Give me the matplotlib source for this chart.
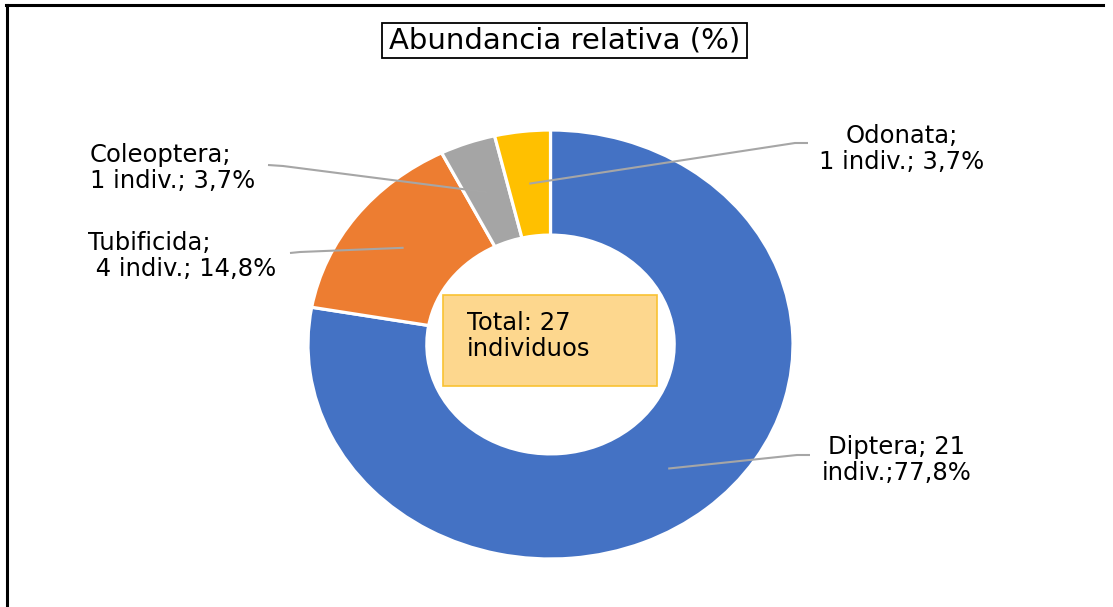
import matplotlib
matplotlib.use("Agg")
import matplotlib.pyplot as plt
import numpy as np
from matplotlib.patches import Rectangle
from matplotlib.lines import Line2D

# ---- data ----
categories = ["Diptera", "Tubificida", "Coleoptera", "Odonata"]
counts = [21, 4, 1, 1]
labels = ["Diptera; 21\nindiv.;77,8%",
          "Tubificida;\n 4 indiv.; 14,8%",
          "Coleoptera;\n1 indiv.; 3,7%",
          "Odonata;\n1 indiv.; 3,7%"]
colors = ["#4472C4", "#ED7D31", "#A5A5A5", "#FFC000"]
title = "Abundancia relativa (%)"
center_text = "Total: 27\nindividuos"

plt.rcParams["font.family"] = ["DejaVu Sans"]

W, H = 1113, 607
fig = plt.figure(figsize=(W / 100, H / 100), dpi=100)
fig.patch.set_facecolor("white")

# donut (slightly elliptical like the reference)
cx, cy, rx, ry = 550.5, 344.5, 242.5, 214.5
ax = fig.add_axes([(cx - rx) / W, (H - cy - ry) / H, 2 * rx / W, 2 * ry / H])
wedges, _ = ax.pie(counts, colors=colors, startangle=90, counterclock=False,
                   radius=1.0,
                   wedgeprops=dict(width=0.49, edgecolor="white", linewidth=2.3))
ax.set_aspect("auto")
ax.set_xlim(-1, 1)
ax.set_ylim(-1, 1)
ax.axis("off")

# overlay in pixel coordinates (top-left origin)
ov = fig.add_axes([0, 0, 1, 1], zorder=5)
ov.set_xlim(0, W)
ov.set_ylim(H, 0)
ov.axis("off")


def to_ov(x, y):
    return ov.transData.inverted().transform(ax.transData.transform((x, y)))


# layout of labels (pixel positions)
label_pos = [(897, 460, "center"), (88, 256, "left"), (90, 168, "left"), (902, 149, "center")]
leader_end = [(810, 455), (290, 253), (268, 165), (808, 143)]
leader_elbow = [(797, 455), (300, 252), (283, 166), (795, 143)]

fs = 17.5
for w, lab, (lx, ly, ha), end, elb in zip(wedges, labels, label_pos, leader_end, leader_elbow):
    mid = np.deg2rad((w.theta1 + w.theta2) / 2)
    r = 0.755
    axp, ayp = to_ov(r * np.cos(mid), r * np.sin(mid))
    ov.plot([end[0], elb[0], axp], [end[1], elb[1], ayp], color="#A6A6A6", lw=1.5,
            solid_capstyle="butt")
    ov.text(lx, ly, lab, ha=ha, va="center", multialignment=ha, fontsize=fs,
            linespacing=1.13, color="black")

# centre box
ov.add_patch(Rectangle((443, 295), 214, 91, facecolor="#FDD78E", edgecolor="#F9C232", lw=1.2))
ov.text(467, 336, center_text, ha="left", va="center", fontsize=fs, linespacing=1.13)

# title box
ov.add_patch(Rectangle((382, 23), 365, 35, facecolor="white", edgecolor="black", lw=1.3))
ov.text(564.5, 41, title, ha="center", va="center", fontsize=21)

# outer frame (left and top)
fig.add_artist(Line2D([6.5 / W, 6.5 / W], [0, 1 - 5 / H], color="black", lw=2.2,
                      transform=fig.transFigure))
fig.add_artist(Line2D([5.5 / W, 1103 / W], [1 - 5 / H, 1 - 5 / H], color="black", lw=2.2,
                      transform=fig.transFigure))

fig.savefig("out.png", dpi=100, facecolor="white")
